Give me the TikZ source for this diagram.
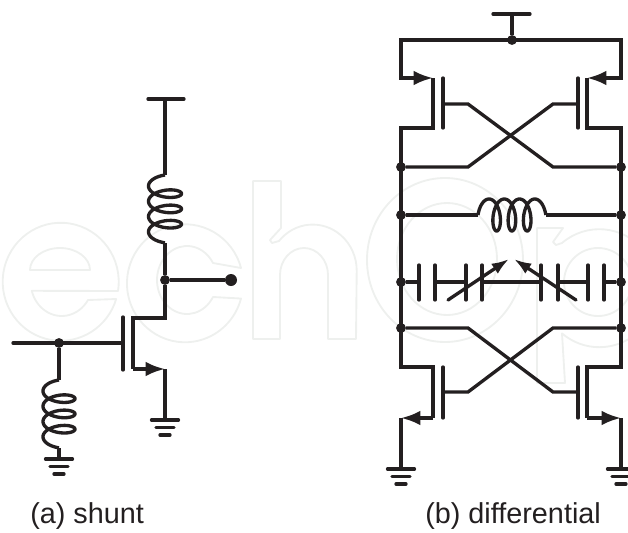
\documentclass[tikz,border=0pt]{standalone}
\usepackage{fontspec}
\setmainfont{Liberation Sans}
\usepackage{tikz}
\usetikzlibrary{arrows.meta}

\definecolor{ink}{HTML}{231F20}
\definecolor{wmark}{HTML}{EEF0EE}

\tikzset{
    wire/.style={ink, line width=2.5pt},
    plate/.style={ink, line width=2.5pt, line cap=round},
    arrowwire/.style={wire, -{Latex[length=14.5pt, width=11pt]}},
    tuneline/.style={wire, line cap=round, -{Latex[length=13pt, width=9pt]}},
    dot/.style={circle, fill=ink, inner sep=0pt, minimum size=7.4pt},
    bigdot/.style={circle, fill=ink, inner sep=0pt, minimum size=9pt},
    coilplot/.style={wire, domain=-1.5708:20.4204, samples=170, smooth},
    caption/.style={anchor=base west, inner sep=0pt, text=ink, font=\fontsize{21.6}{25}\selectfont},
    wletter/.style={wmark, line width=1.4pt, line join=round},
    gnd/.pic={
        \draw[plate] (-13.5,0) -- (13.5,0);
        \draw[plate] (-9,7.5) -- (9,7.5);
        \draw[plate] (-5,15) -- (5,15);
    }
}

\begin{document}
\begin{tikzpicture}[x=0.75pt, y=-0.75pt]
    \useasboundingbox (0,0) rectangle (628,532);

    % faint lettering behind the circuits
    \draw[wletter] (118,291) arc[start angle=9, end angle=-343, x radius=58, y radius=59] -- (88,300)
        arc[start angle=32, end angle=165, x radius=31, y radius=34] -- cycle;
    \draw[wletter] (30,270) -- (90,270) arc[start angle=0, end angle=-180, x radius=30, y radius=22] -- cycle;
    \draw[wletter] (241,268) arc[start angle=-15, end angle=-345, x radius=58, y radius=59] -- (213,297)
        arc[start angle=30, end angle=330, x radius=30, y radius=34] -- cycle;
    \draw[wletter] (253,181) -- (281,181) -- (281,228) -- (270,240) -- (272,243) -- (279,241)
        arc[start angle=-140, end angle=0, x radius=44, y radius=46] -- (356,339) -- (328,339) -- (328,275)
        arc[start angle=0, end angle=-180, x radius=24, y radius=27] -- (280,339) -- (253,339) -- cycle;
    \draw[wletter] (445,260) ellipse[x radius=78, y radius=82];
    \draw[wletter] (447,259) ellipse[x radius=50, y radius=56];
    \draw[wletter] (537,228) -- (563,228) -- (553,242) -- (556,245) -- (562,243)
        arc[start angle=-130, end angle=130, x radius=58, y radius=59] -- (565,383) -- (537,383) -- cycle;
    \draw[wletter] (598,282) ellipse[x radius=34, y radius=34];

    % (a) shunt
    \coordinate (avddl) at (148,99);
    \coordinate (avddr) at (184,99);
    \coordinate (avdd) at (165,99);
    \coordinate (acoilt) at (165,175);
    \coordinate (acoilb) at (165,243);
    \node[dot] (aout) at (165,280) {};
    \node[bigdot] (aport) at (231,280) {};
    \coordinate (adrain) at (165,318);
    \coordinate (adi) at (133,318);
    \coordinate (asi) at (133,369);
    \coordinate (asource) at (165,369);
    \coordinate (agnd) at (165,420);
    \coordinate (agt) at (123,317);
    \coordinate (agb) at (123,370);
    \coordinate (agate) at (123,343);
    \coordinate (ain) at (13,343);
    \node[dot] (atap) at (59,343) {};
    \coordinate (bcoilt) at (59,380);
    \coordinate (bcoilb) at (59,448);
    \coordinate (bgnd) at (59,459);

    \draw[plate] (avddl) -- (avddr);
    \draw[wire] (avdd) -- (acoilt);
    \draw[coilplot] plot ({165-16.5*cos(\x r)}, {175+2.43*(\x+1.5708)+7.2*(sin(\x r)+1)});
    \draw[wire] (acoilb) -- (aout) -- (adrain) -- (adi) -- (asi);
    \draw[wire] (aout) -- (aport);
    \draw[plate] (agt) -- (agb);
    \draw[arrowwire] (asi) -- (asource);
    \draw[wire] (asource) -- (agnd);
    \pic at (agnd) {gnd};
    \draw[plate] (ain) -- (agate);
    \draw[wire] (atap) -- (bcoilt);
    \draw[coilplot] plot ({59-16*cos(\x r)}, {380+2.43*(\x+1.5708)+7.2*(sin(\x r)+1)});
    \draw[wire] (bcoilb) -- (bgnd);
    \pic at (bgnd) {gnd};

    % (b) differential
    \coordinate (vddl) at (493,14);
    \coordinate (vddr) at (530,14);
    \coordinate (vdd) at (512,14);
    \node[dot] (vtap) at (512,40) {};
    \coordinate (railtl) at (401,40);
    \coordinate (railtr) at (621,40);
    \coordinate (ultop) at (401,78);
    \coordinate (urtop) at (621,78);
    \coordinate (uls) at (433,78);
    \coordinate (urs) at (587,78);
    \coordinate (uld) at (433,128);
    \coordinate (urd) at (587,128);
    \coordinate (ulout) at (401,128);
    \coordinate (urout) at (621,128);
    \coordinate (ugl) at (443,104);
    \coordinate (ugr) at (578,104);
    \coordinate (ubl) at (468,104);
    \coordinate (ubr) at (553,104);
    \coordinate (ucl) at (468,167);
    \coordinate (ucr) at (553,167);
    \node[dot] (n1l) at (401,167) {};
    \node[dot] (n1r) at (621,167) {};
    \node[dot] (n2l) at (401,215) {};
    \node[dot] (n2r) at (621,215) {};
    \node[dot] (n3l) at (401,282) {};
    \node[dot] (n3r) at (621,282) {};
    \node[dot] (n4l) at (401,328) {};
    \node[dot] (n4r) at (621,328) {};
    \coordinate (coill) at (478,215);
    \coordinate (coilr) at (546,215);
    \coordinate (lcl) at (468,328);
    \coordinate (lcr) at (553,328);
    \coordinate (lbl) at (468,392);
    \coordinate (lbr) at (553,392);
    \coordinate (lgl) at (443,392);
    \coordinate (lgr) at (578,392);
    \coordinate (lltop) at (401,367);
    \coordinate (lrtop) at (621,367);
    \coordinate (lld) at (433,367);
    \coordinate (lrd) at (587,367);
    \coordinate (lls) at (433,418);
    \coordinate (lrs) at (587,418);
    \coordinate (llout) at (401,418);
    \coordinate (lrout) at (621,418);
    \coordinate (gndl) at (401,469);
    \coordinate (gndr) at (621,469);

    \draw[plate] (vddl) -- (vddr);
    \draw[wire] (vdd) -- (vtap);
    \draw[wire] (uls) ++(-8,0) -- (ultop) -- (railtl) -- (railtr) -- (urtop) -- ++(-8,0);
    \draw[arrowwire] (ultop) -- (uls);
    \draw[arrowwire] (urtop) -- (urs);
    \draw[wire] (uls) -- (uld) -- (ulout) -- (lltop) -- (lld) -- (lls);
    \draw[wire] (urs) -- (urd) -- (urout) -- (lrtop) -- (lrd) -- (lrs);
    \foreach \px in {443,578} {
        \draw[plate] (\px,78) -- (\px,128);
        \draw[plate] (\px,367) -- (\px,418);
    }
    \draw[wire] (ugl) -- (ubl) -- (ucr) -- (n1r);
    \draw[wire] (ugr) -- (ubr) -- (ucl) -- (n1l);
    \draw[wire] (n4l) -- (lcl) -- (lbr) -- (lgr);
    \draw[wire] (n4r) -- (lcr) -- (lbl) -- (lgl);

    % inductor rung
    \draw[wire] (n2l) -- (coill);
    \draw[coilplot] plot ({478+2.43*(\x+1.5708)+7.2*(sin(\x r)+1)}, {215-16*cos(\x r)});
    \draw[wire] (coilr) -- (n2r);

    % varactor rung
    \foreach \px in {419,435,466,482,541,558,588,604}
        \draw[plate] (\px,265) -- (\px,300);
    \draw[wire] (n3l) -- (419,282);
    \draw[wire] (435,282) -- (466,282);
    \draw[wire] (482,282) -- (541,282);
    \draw[wire] (558,282) -- (588,282);
    \draw[wire] (604,282) -- (n3r);
    \draw[tuneline] (448,300) -- (509,259);
    \draw[tuneline] (576,300) -- (514,259);

    % tail devices
    \draw[arrowwire] (lls) -- (llout);
    \draw[arrowwire] (lrs) -- (lrout);
    \draw[wire] (llout) -- (gndl);
    \draw[wire] (lrout) -- (gndr);
    \pic at (gndl) {gnd};
    \pic at (gndr) {gnd};

    \node[caption] (capa) at (30,523) {(a) shunt};
    \node[caption] (capb) at (425,523) {(b) differential};
\end{tikzpicture}
\end{document}
